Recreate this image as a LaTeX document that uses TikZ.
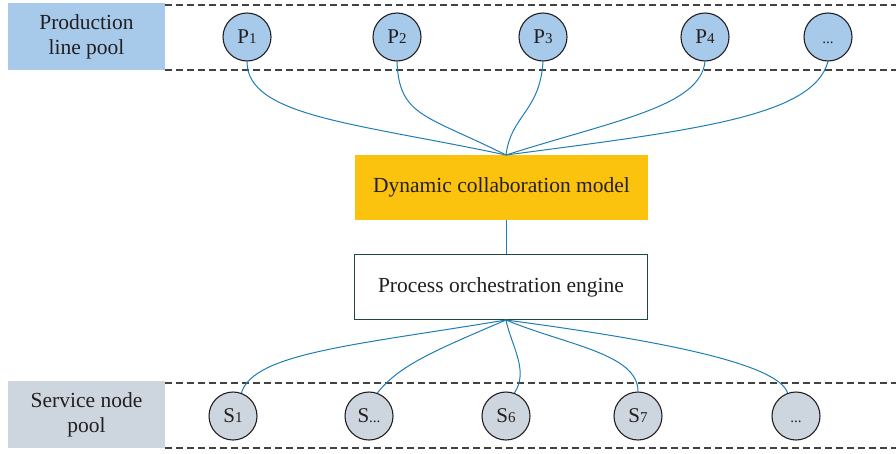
\documentclass[tikz,border=0pt]{standalone}
\usepackage{fontspec}
\setmainfont{Liberation Serif}
\definecolor{poolblue}{HTML}{A7C9EA}
\definecolor{poolgrey}{HTML}{CDD5DE}
\definecolor{linkblue}{HTML}{1F7DB5}
\definecolor{modelyellow}{HTML}{FCC30E}
\definecolor{enginegreen}{HTML}{1E4A3A}
\definecolor{ink}{HTML}{231F20}
\tikzset{
  poollabel/.style={draw=none,minimum width=157pt,minimum height=67pt,align=center,font=\fontsize{21.5}{25}\selectfont,text=ink,inner sep=0pt},
  pnode/.style={circle,draw=ink,line width=1.1pt,fill=poolblue,minimum size=48pt,inner sep=0pt,font=\fontsize{21}{24}\selectfont,text=ink},
  snode/.style={pnode,fill=poolgrey},
  bigbox/.style={minimum width=293pt,minimum height=65pt,inner sep=0pt,font=\fontsize{21.5}{25}\selectfont,text=ink},
  link/.style={draw=linkblue,line width=1pt},
  lane/.style={draw=ink!85,dashed,dash pattern=on 7pt off 4pt,line width=1.1pt}
}
\newcommand{\nb}[1]{{\fontsize{15}{17}\selectfont #1}}
\begin{document}
\begin{tikzpicture}[x=1pt,y=-1pt]
\useasboundingbox (0,0) rectangle (896,453);
% pool labels
\node[poollabel,fill=poolblue] (ptop) at (86.5,36.5) {Production\\line pool};
\node[poollabel,fill=poolgrey] (pbot) at (86.5,414.5) {Service node\\pool};
% dashed lanes
\coordinate (t1a) at (165,5);   \coordinate (t1b) at (896,5);
\coordinate (t2a) at (165,70);  \coordinate (t2b) at (896,70);
\coordinate (b1a) at (165,383); \coordinate (b1b) at (896,383);
\coordinate (b2a) at (165,448); \coordinate (b2b) at (896,448);
\draw[lane] (t1a) -- (t1b);
\draw[lane] (t2a) -- (t2b);
\draw[lane] (b1a) -- (b1b);
\draw[lane] (b2a) -- (b2b);
% boxes
\node[bigbox,fill=modelyellow] (dcm) at (501.5,187.5) {Dynamic collaboration model};
\node[bigbox,draw=enginegreen,line width=1.2pt,fill=white] (poe) at (501,287) {Process orchestration engine};
\coordinate (hubt) at (506,155);
\coordinate (hubb) at (506,320);
\coordinate (midt) at (506,220);
\coordinate (midb) at (506,254);
\draw[link] (midt) -- (midb);
% P nodes
\node[pnode] (p1) at (247,37) {P\nb{1}};
\node[pnode] (p2) at (397,37) {P\nb{2}};
\node[pnode] (p3) at (543,37) {P\nb{3}};
\node[pnode] (p4) at (705,37) {P\nb{4}};
\node[pnode] (p5) at (828,37) {\vphantom{P}\nb{...}};
% S nodes
\node[snode] (s1) at (233,416) {S\nb{1}};
\node[snode] (s2) at (369,416) {S\nb{...}};
\node[snode] (s3) at (506,416) {S\nb{6}};
\node[snode] (s4) at (638,416) {S\nb{7}};
\node[snode] (s5) at (796,416) {\vphantom{S}\nb{...}};
% top links
\draw[link] (p1.south) .. controls +(0,55) and +(-150,-32) .. (hubt);
\draw[link] (p2.south) .. controls +(2,55) and +(-80,-40) .. (hubt);
\draw[link] (p3.south) .. controls +(-3,50) and +(5,-40) .. (hubt);
\draw[link] (p4.south) .. controls +(-5,45) and +(110,-35) .. (hubt);
\draw[link] (p5.south) .. controls +(-15,55) and +(190,-25) .. (hubt);
% bottom links
\draw[link] (s1.70) .. controls +(12,-40) and +(-150,25) .. (hubb);
\draw[link] (s2.70) .. controls +(22,-28) and +(-70,30) .. (hubb);
\draw[link] (s3.70) .. controls +(15,-22) and +(5,25) .. (hubb);
\draw[link] (s4.north) .. controls +(0,-38) and +(60,25) .. (hubb);
\draw[link] (s5.110) .. controls +(-10,-30) and +(150,20) .. (hubb);
\end{tikzpicture}
\end{document}
